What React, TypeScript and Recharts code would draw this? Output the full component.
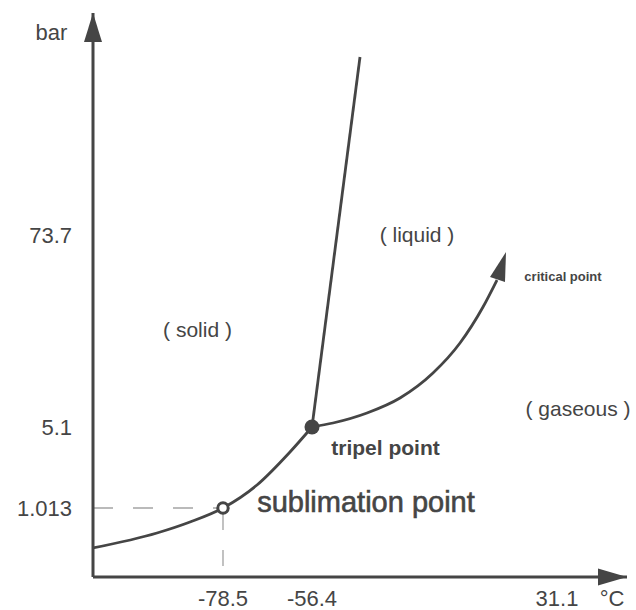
import React from "react";
import { ComposedChart, Line, XAxis, YAxis, ReferenceDot } from "recharts";

// schematic coordinates: the phase diagram is not drawn to scale
const xTickPos = [130, 219, 464];
const xTickLabels = ["-78.5", "-56.4", "31.1"];
const yTickPos = [69, 150, 342];
const yTickLabels = ["1.013", "5.1", "73.7"];

const sublimationCurve = [
  { x: 0, y: 29 },
  { x: 64, y: 44 },
  { x: 97, y: 55 },
  { x: 130, y: 69 },
  { x: 164, y: 92 },
  { x: 197, y: 125 },
  { x: 219, y: 150 },
];
const meltingCurve = [
  { x: 219, y: 150 },
  { x: 267, y: 520 },
];
const vaporCurve = [
  { x: 219, y: 150 },
  { x: 240, y: 154 },
  { x: 274, y: 164 },
  { x: 307, y: 179 },
  { x: 340, y: 204 },
  { x: 367, y: 234 },
  { x: 390, y: 270 },
  { x: 404, y: 297 },
];
const criticalTip = { x: 413, y: 325 };
const triplePoint = { x: 219, y: 150 };
const sublimationPoint = { x: 130, y: 69 };
const guideH = [
  { x: 0, y: 69 },
  { x: 130, y: 69 },
];
const guideV = [
  { x: 130, y: 63 },
  { x: 130, y: 0 },
];

const annotations = [
  { text: "bar", x: -41.5, y: 537, size: 22, weight: 400, stroke: 0 },
  { text: "°C", x: 519, y: -29, size: 22, weight: 400, stroke: 0 },
  { text: "( solid )", x: 104.5, y: 240, size: 21, weight: 400, stroke: 0 },
  { text: "( liquid )", x: 324, y: 335, size: 21, weight: 400, stroke: 0 },
  { text: "( gaseous )", x: 485, y: 161, size: 21, weight: 400, stroke: 0 },
  { text: "critical point", x: 470, y: 296, size: 13, weight: 700, stroke: 0 },
  { text: "tripel point", x: 292.5, y: 122, size: 21, weight: 700, stroke: 0 },
  { text: "sublimation point", x: 273, y: 65, size: 29, weight: 400, stroke: 0.6 },
];

const INK = "#454545";
const FONT = "'Liberation Sans', Arial, sans-serif";

const XTick = (props: any) => {
  const { x, y, index } = props;
  return (
    <text x={x} y={y + 29} textAnchor="middle" fontSize={22} fill={INK} fontFamily={FONT}>
      {xTickLabels[index]}
    </text>
  );
};

const YTick = (props: any) => {
  const { x, y, index } = props;
  return (
    <text x={x - 21} y={y + 8} textAnchor="end" fontSize={22} fill={INK} fontFamily={FONT}>
      {yTickLabels[index]}
    </text>
  );
};

const arrowUp = (p: any) => (
  <polygon points={`${p.cx},${p.cy} ${p.cx - 9},${p.cy + 29} ${p.cx + 9},${p.cy + 29}`} fill={INK} />
);
const arrowRight = (p: any) => (
  <polygon points={`${p.cx},${p.cy} ${p.cx - 29},${p.cy - 8.5} ${p.cx - 29},${p.cy + 8.5}`} fill={INK} />
);
const arrowCurve = (p: any) => (
  <polygon
    points={`${p.cx},${p.cy} ${p.cx - 16},${p.cy + 25} ${p.cx - 1},${p.cy + 30}`}
    fill={INK}
  />
);

const textShape = (a: any) => (p: any) => (
  <text
    x={p.cx}
    y={p.cy}
    textAnchor="middle"
    fontSize={a.size}
    fontWeight={a.weight}
    fill={INK}
    stroke={a.stroke ? INK : "none"}
    strokeWidth={a.stroke}
    fontFamily={FONT}
  >
    {a.text}
  </text>
);

export default function App() {
  return (
    <div style={{ position: "absolute", left: 0, top: 0, background: "#fff" }}>
      <ComposedChart width={636} height={610} margin={{ top: 13, right: 9, bottom: 0, left: 0 }}>
        <XAxis
          dataKey="x"
          type="number"
          domain={[0, 534]}
          ticks={xTickPos}
          allowDataOverflow
          height={33}
          tickSize={0}
          tickMargin={0}
          tickLine={false}
          axisLine={{ stroke: INK, strokeWidth: 3 }}
          tick={<XTick />}
        />
        <YAxis
          dataKey="y"
          type="number"
          domain={[0, 564]}
          ticks={yTickPos}
          allowDataOverflow
          width={93}
          tickSize={0}
          tickMargin={0}
          tickLine={false}
          axisLine={{ stroke: INK, strokeWidth: 3 }}
          tick={<YTick />}
        />
        <Line data={guideH} dataKey="y" type="linear" stroke="#777" strokeWidth={1.2} strokeDasharray="20 20" dot={false} isAnimationActive={false} />
        <Line data={guideV} dataKey="y" type="linear" stroke="#999" strokeWidth={1.2} strokeDasharray="16 20" dot={false} isAnimationActive={false} />
        <Line data={sublimationCurve} dataKey="y" type="monotone" stroke={INK} strokeWidth={2.8} dot={false} isAnimationActive={false} />
        <Line data={meltingCurve} dataKey="y" type="linear" stroke={INK} strokeWidth={2.8} dot={false} isAnimationActive={false} />
        <Line data={vaporCurve} dataKey="y" type="monotone" stroke={INK} strokeWidth={2.8} dot={false} isAnimationActive={false} />
        <ReferenceDot x={criticalTip.x} y={criticalTip.y} r={0} ifOverflow="visible" shape={arrowCurve} />
        <ReferenceDot x={triplePoint.x} y={triplePoint.y} r={7.5} fill={INK} stroke="none" ifOverflow="visible" />
        <ReferenceDot x={sublimationPoint.x} y={sublimationPoint.y} r={5.2} fill="#fff" stroke={INK} strokeWidth={3} ifOverflow="visible" />
        <ReferenceDot x={0} y={564} r={0} ifOverflow="visible" shape={arrowUp} />
        <ReferenceDot x={534} y={0} r={0} ifOverflow="visible" shape={arrowRight} />
        {annotations.map((a) => (
          <ReferenceDot key={a.text} x={a.x} y={a.y} r={0} ifOverflow="visible" shape={textShape(a)} />
        ))}
      </ComposedChart>
    </div>
  );
}
